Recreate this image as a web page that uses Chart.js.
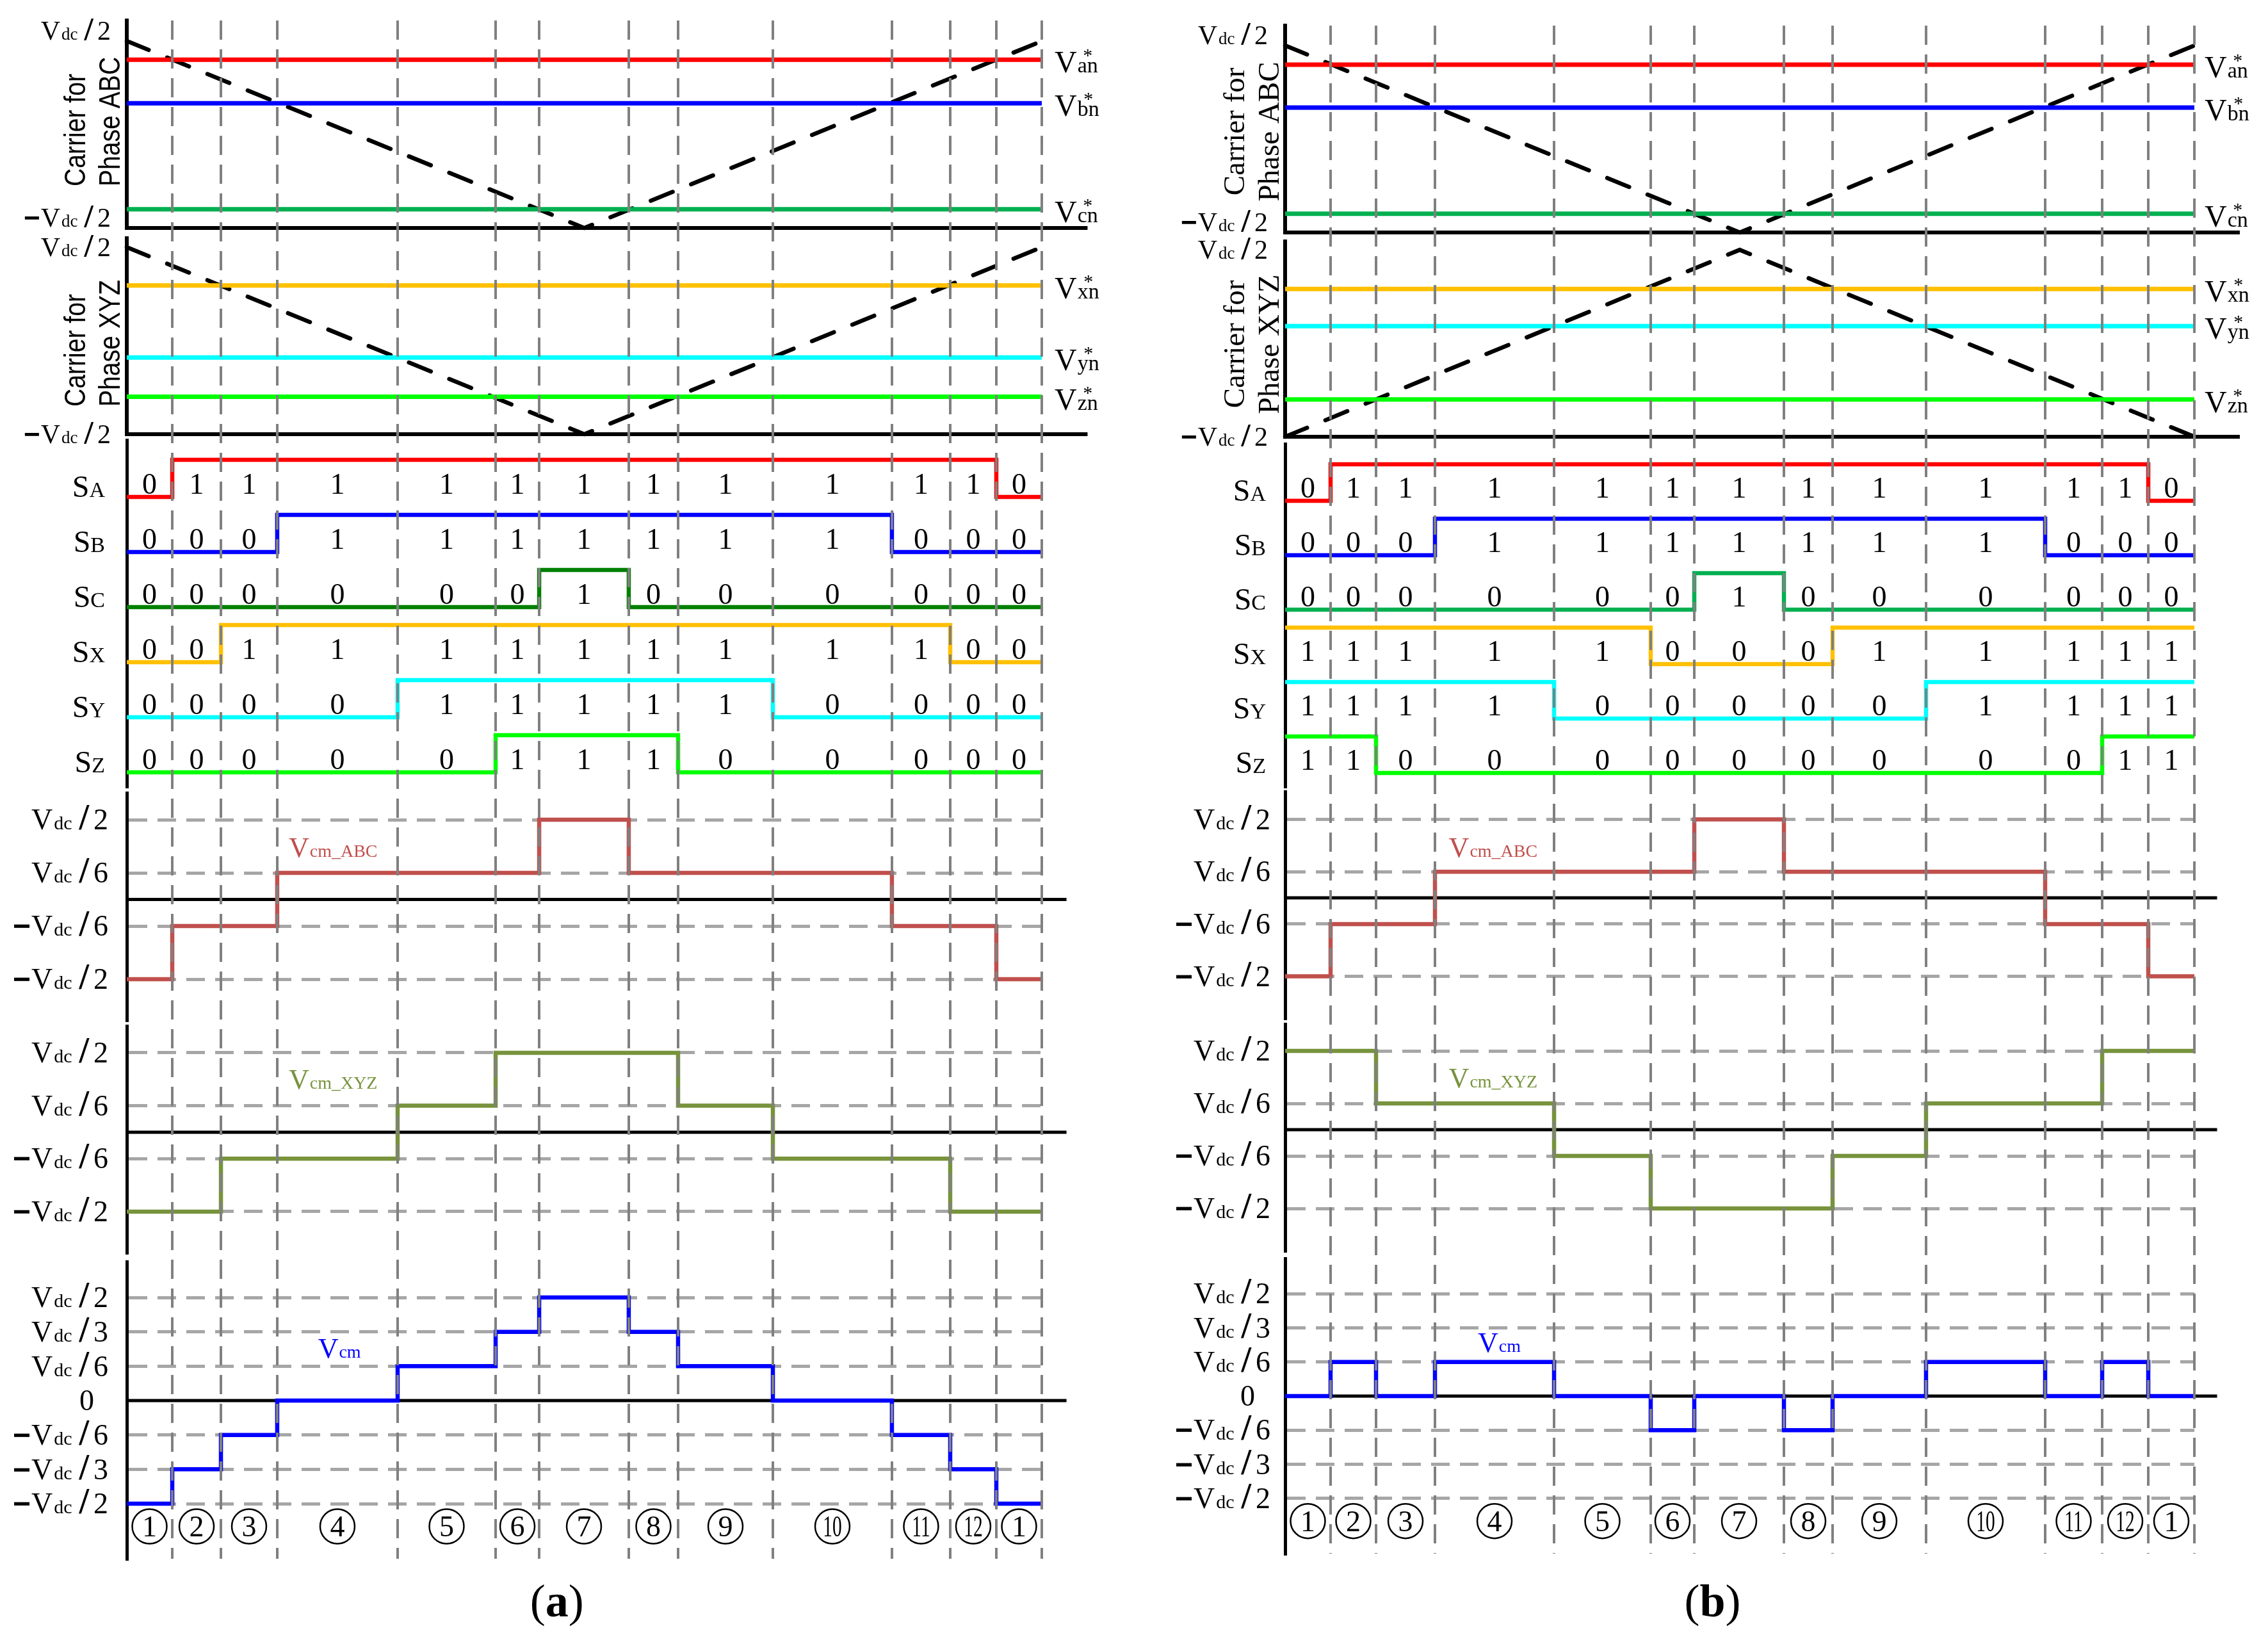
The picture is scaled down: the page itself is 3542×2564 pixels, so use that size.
<!DOCTYPE html>
<html>
<head>
<meta charset="utf-8">
<script src="https://cdn.jsdelivr.net/npm/chart.js@4.4.1/dist/chart.umd.min.js"></script>
<style>
html,body{margin:0;padding:0;background:#fff;}
#wrap{position:relative;width:3542px;height:2564px;background:#fff;overflow:hidden;}
#wrap canvas{position:absolute;top:0;}
</style>
</head>
<body>
<div id="wrap">
  <canvas id="ca" width="1771" height="2564" style="left:0px"></canvas>
  <canvas id="cb" width="1771" height="2564" style="left:1771px"></canvas>
</div>
<script>
// ================= DATA =================
const regionLabels = ['1','2','3','4','5','6','7','8','9','10','11','12','1'];
// switching instants (percent of the carrier period)
const boundsA = [0, 4.97, 10.29, 16.44, 29.6, 40.31, 45.07, 54.86, 60.25, 70.61, 83.62, 89.99, 95.03, 100];
const boundsB = [0, 5.0, 10.0, 16.48, 29.58, 40.21, 45.0, 54.86, 60.21, 70.49, 83.59, 89.86, 94.93, 100];

// triangular carriers (time, value in Vdc)
const carrierTime = [0, 50, 100];
const carrierABC_A = [0.5, -0.5, 0.5];
const carrierXYZ_A = [0.5, -0.5, 0.5];
const carrierABC_B = [0.5, -0.5, 0.5];
const carrierXYZ_B = [-0.5, 0.5, -0.5];

// references (in Vdc)
const refSpan = [0, 100];
const refNamesABC = ['an', 'bn', 'cn'];
const refNamesXYZ = ['xn', 'yn', 'zn'];
const refABC_A = [0.40, 0.167, -0.40];
const refXYZ_A = [0.295, -0.09, -0.30];
const refABC_B = [0.397, 0.168, -0.40];
const refXYZ_B = [0.291, 0.092, -0.30];

// switching states
const switchNames = ['A', 'B', 'C', 'X', 'Y', 'Z'];
const SA_a = [0,1,1,1,1,1,1,1,1,1,1,1,0];
const SB_a = [0,0,0,1,1,1,1,1,1,1,0,0,0];
const SC_a = [0,0,0,0,0,0,1,0,0,0,0,0,0];
const SX_a = [0,0,1,1,1,1,1,1,1,1,1,0,0];
const SY_a = [0,0,0,0,1,1,1,1,1,0,0,0,0];
const SZ_a = [0,0,0,0,0,1,1,1,0,0,0,0,0];
const SA_b = [0,1,1,1,1,1,1,1,1,1,1,1,0];
const SB_b = [0,0,0,1,1,1,1,1,1,1,0,0,0];
const SC_b = [0,0,0,0,0,0,1,0,0,0,0,0,0];
const SX_b = [1,1,1,1,1,0,0,0,1,1,1,1,1];
const SY_b = [1,1,1,1,0,0,0,0,0,1,1,1,1];
const SZ_b = [1,1,0,0,0,0,0,0,0,0,0,1,1];

// common-mode voltages (in Vdc)
const vcmABC_a = [-0.5,-0.1667,-0.1667,0.1667,0.1667,0.1667,0.5,0.1667,0.1667,0.1667,-0.1667,-0.1667,-0.5];
const vcmXYZ_a = [-0.5,-0.5,-0.1667,-0.1667,0.1667,0.5,0.5,0.5,0.1667,-0.1667,-0.1667,-0.5,-0.5];
const vcm_a    = [-0.5,-0.3333,-0.1667,0,0.1667,0.3333,0.5,0.3333,0.1667,0,-0.1667,-0.3333,-0.5];
const vcmABC_b = [-0.5,-0.1667,-0.1667,0.1667,0.1667,0.1667,0.5,0.1667,0.1667,0.1667,-0.1667,-0.1667,-0.5];
const vcmXYZ_b = [0.5,0.5,0.1667,0.1667,-0.1667,-0.5,-0.5,-0.5,-0.1667,0.1667,0.1667,0.5,0.5];
const vcm_b    = [0,0.1667,0,0.1667,0,-0.1667,0,-0.1667,0,0.1667,0,0.1667,0];

// tick values and labels
const carrierTicks = [0.5, -0.5];
const carrierTickLabels = ['Vdc/2', '−Vdc/2'];
const partTicks = [0.5, 0.1667, -0.1667, -0.5];
const partTickLabels = ['Vdc/2', 'Vdc/6', '−Vdc/6', '−Vdc/2'];
const vcmTicks = [0.5, 0.3333, 0.1667, 0, -0.1667, -0.3333, -0.5];
const vcmTickLabels = ['Vdc/2', 'Vdc/3', 'Vdc/6', '0', '−Vdc/6', '−Vdc/3', '−Vdc/2'];

// ================= STYLE / HELPERS =================
const SERIF = '"Liberation Serif", "Times New Roman", serif';
const SANS = '"Liberation Sans", Arial, sans-serif';
function fnt(size, bold) { return (bold ? 'bold ' : '') + size + 'px ' + SERIF; }

function drawRuns(ctx, runs, x, y, align, sx) {
  sx = sx || 1;
  let w = 0;
  for (const r of runs) { ctx.font = r.font; r.w = ctx.measureText(r.t).width; w += (r.dx || 0) + r.w; }
  const W = w * sx;
  const x0 = align === 'right' ? x - W : (align === 'center' ? x - W / 2 : x);
  ctx.save();
  ctx.translate(x0, y); ctx.scale(sx, 1);
  ctx.textAlign = 'left'; ctx.textBaseline = 'alphabetic';
  let px = 0;
  for (const r of runs) {
    px += r.dx || 0;
    ctx.font = r.font; ctx.fillStyle = r.color || '#000';
    ctx.fillText(r.t, px, r.dy || 0);
    px += r.w;
  }
  ctx.restore();
  return W;
}

function vdcRuns(label, S) {
  if (label.indexOf('Vdc') < 0) return [{ t: label, font: fnt(S) }];
  const neg = label.charAt(0) === '−';
  const den = label.split('/')[1];
  const runs = [];
  if (neg) runs.push({ t: '−', font: 'bold ' + Math.round(S * 1.05) + 'px ' + SANS, dy: 1 });
  runs.push({ t: 'V', font: fnt(S), dx: neg ? 1 : 0 });
  runs.push({ t: 'dc', font: fnt(Math.round(S * 0.65)), dx: 2 });
  runs.push({ t: '/', font: fnt(Math.round(S * 1.22), true), dx: S * 0.24 });
  runs.push({ t: den, font: fnt(S), dx: S * 0.15 });
  return runs;
}

function pairData(xs, ys) { return xs.map((x, i) => ({ x: x, y: ys[i] })); }
function stepData(bounds, vals) { return bounds.map((b, i) => ({ x: b, y: vals[Math.min(i, vals.length - 1)] })); }

function lineDs(yID, data, color, width, extra) {
  return Object.assign({ yAxisID: yID, xAxisID: 'x', data: data, borderColor: color, borderWidth: width,
    pointRadius: 0, fill: false, tension: 0, clip: false, borderCapStyle: 'butt', borderJoinStyle: 'miter' }, extra || {});
}

function carrierSet(yID, carrier, refs, colors, axisEnd) {
  const out = [];
  refs.forEach((v, i) => out.push(lineDs(yID, pairData(refSpan, [v, v]), colors[i], 7)));
  out.push(lineDs(yID, pairData(carrierTime, carrier), '#000', 6.5, { borderDash: [37, 31], borderCapStyle: 'round' }));
  out.push(lineDs(yID, pairData([0, axisEnd], [-0.5, -0.5]), '#000', 6));
  return out;
}
function switchSet(bounds, states, colors) {
  return states.map((s, k) => lineDs('yS' + switchNames[k], stepData(bounds, s), colors[k], 6.5, { stepped: true }));
}
function vcmSet(yID, bounds, vals, color, zeroEnd) {
  return [
    lineDs(yID, stepData(bounds, vals), color, 6.5, { stepped: true }),
    lineDs(yID, pairData([0, zeroEnd], [0, 0]), '#000', 5)
  ];
}

function drawPanelText(chart, P) {
  const ctx = chart.ctx, X = chart.scales.x, ax = X.left;
  ctx.save();
  // y tick labels
  P.tickSets.forEach(ts => {
    const sc = chart.scales[ts.id];
    ts.values.forEach((v, i) => {
      const lab = ts.labels[i];
      const py = sc.getPixelForValue(v);
      const y = ts.base ? py - 2 : py + 0.33 * ts.size;
      const gap = lab === '0' ? P.zeroGap : ts.gap;
      drawRuns(ctx, vdcRuns(lab, ts.size), ax - gap, y, 'right');
    });
  });
  // reference labels on the right
  P.refSets.forEach(rs => {
    const sc = chart.scales[rs.id];
    rs.values.forEach((v, i) => {
      const y = sc.getPixelForValue(v) + 20;
      const x = X.getPixelForValue(100) + P.refDx;
      ctx.font = fnt(48); const wV = ctx.measureText('V').width;
      ctx.font = fnt(34); const wS = ctx.measureText(rs.names[i]).width;
      drawRuns(ctx, [{ t: 'V', font: fnt(48) }, { t: rs.names[i], font: fnt(34), dx: 1 }], x, y, 'left');
      drawRuns(ctx, [{ t: '*', font: fnt(30) }], x + wV + 1 + wS / 2, y - 17, 'center');
    });
  });
  // switching labels and state digits
  switchNames.forEach((nm, k) => {
    const sc = chart.scales['yS' + nm];
    const y0 = sc.getPixelForValue(0);
    drawRuns(ctx, [{ t: 'S', font: fnt(48) }, { t: nm, font: fnt(34) }], ax - P.sGap, y0, 'right');
    P.states[k].forEach((s, i) => {
      const xm = X.getPixelForValue((P.bounds[i] + P.bounds[i + 1]) / 2);
      drawRuns(ctx, [{ t: String(s), font: fnt(46) }], xm, y0 - 5, 'center');
    });
  });
  // common-mode curve names
  P.vLabels.forEach(vl => {
    const sc = chart.scales[vl.id];
    drawRuns(ctx, [{ t: 'V', font: fnt(44), color: vl.color }, { t: vl.sub, font: fnt(28), color: vl.color, dx: 1 }],
      X.getPixelForValue(vl.x), sc.getPixelForValue(vl.y), 'left');
  });
  // circled region numbers
  const sV = chart.scales.yV;
  const cy = sV.getPixelForValue(P.circleY);
  regionLabels.forEach((lab, i) => {
    const cx = X.getPixelForValue((P.bounds[i] + P.bounds[i + 1]) / 2);
    ctx.beginPath(); ctx.arc(cx, cy, 27, 0, Math.PI * 2);
    ctx.lineWidth = 2.5; ctx.strokeStyle = '#000'; ctx.stroke();
    drawRuns(ctx, [{ t: lab, font: fnt(46) }], cx, cy + 16, 'center', lab.length > 1 ? 0.64 : 1);
  });
  // rotated titles
  P.titles.forEach(tt => {
    const sc = chart.scales[tt.id];
    tt.lines.forEach((line, j) => {
      const bx = ax + P.titleBase[j];
      const by = P.titleAlign === 'left' ? sc.bottom - tt.start : (sc.top + sc.bottom) / 2 + tt.dy;
      ctx.save();
      ctx.translate(bx, by); ctx.rotate(-Math.PI / 2); ctx.scale(P.titleSx, 1);
      ctx.font = P.titleFont; ctx.fillStyle = '#000';
      ctx.textAlign = P.titleAlign; ctx.textBaseline = 'alphabetic';
      ctx.fillText(line, 0, 0);
      ctx.restore();
    });
  });
  // panel letter
  drawRuns(ctx, [{ t: '(', font: fnt(72) }, { t: P.letter, font: fnt(72, true) }, { t: ')', font: fnt(72) }],
    X.getPixelForValue(47), 2524, 'center');
  ctx.restore();
}

function buildPanel(P) {
  const scales = {
    x: {
      type: 'linear', position: 'bottom', min: 0, max: 100, bounds: 'data',
      afterBuildTicks: a => { a.ticks = P.bounds.slice(1).map(v => ({ value: v })); },
      afterFit: a => { a.height = 0; },
      ticks: { display: false, autoSkip: false },
      border: { display: false, dash: [30, 15] },
      grid: { display: true, drawTicks: false, color: '#808080', lineWidth: 4, z: 1 }
    }
  };
  const n = P.slots.length;
  P.slots.forEach((s, i) => {
    const gap = s.min === undefined;
    scales[s.id] = {
      type: 'linear', position: 'left', stack: 'panel', stackWeight: s.h, weight: n - i,
      min: gap ? 0 : s.min, max: gap ? 1 : s.max, bounds: 'data',
      afterBuildTicks: a => { a.ticks = (s.ticks || []).map(v => ({ value: v })); },
      afterFit: a => { a.width = 0; },
      ticks: { display: false, autoSkip: false },
      border: { display: !gap, color: '#000', width: s.bw || 5, dash: [29, 16] },
      grid: { display: !!s.ticks, drawTicks: false, lineWidth: 5,
        color: c => (c.tick && c.tick.value === 0) ? 'rgba(0,0,0,0)' : '#A6A6A6' }
    };
  });
  return new Chart(document.getElementById(P.canvas), {
    type: 'line',
    data: { datasets: P.datasets },
    options: {
      responsive: false, animation: false, devicePixelRatio: 1, events: [],
      layout: { padding: P.pad },
      plugins: { legend: { display: false }, tooltip: { enabled: false } },
      scales: scales
    },
    plugins: [{ id: 'panelText', afterDraw: ch => drawPanelText(ch, P) }]
  });
}

const refColorsABC = ['#FF0000', '#0000FF', '#00B050'];
const refColorsXYZ = ['#FFC000', '#00FFFF', '#00FF00'];

// ================= PANEL (a) =================
const statesA = [SA_a, SB_a, SC_a, SX_a, SY_a, SZ_a];
const panelA = {
  canvas: 'ca', letter: 'a', bounds: boundsA, states: statesA,
  pad: { left: 198, right: 144, top: 32, bottom: 130 },
  slots: [
    { id: 'yCA', h: 324, min: -0.5, max: 0.61, bw: 6 },
    { id: 'g1', h: 16 },
    { id: 'yCX', h: 306, min: -0.5, max: 0.548, bw: 6 },
    { id: 'g2', h: 9 },
    { id: 'ySA', h: 111, min: -0.379, max: 1.534 },
    { id: 'ySB', h: 86, min: -0.379, max: 1.103 },
    { id: 'ySC', h: 86, min: -0.379, max: 1.103 },
    { id: 'ySX', h: 86, min: -0.379, max: 1.103 },
    { id: 'ySY', h: 86, min: -0.379, max: 1.103 },
    { id: 'ySZ', h: 86, min: -0.379, max: 1.103 },
    { id: 'g3', h: 10 },
    { id: 'yVA', h: 355, min: -0.757, max: 0.669, ticks: partTicks },
    { id: 'g4', h: 9 },
    { id: 'yVX', h: 354, min: -0.758, max: 0.669, ticks: partTicks },
    { id: 'g5', h: 14 },
    { id: 'yV', h: 464, min: -0.767, max: 0.674, ticks: vcmTicks }
  ],
  tickSets: [
    { id: 'yCA', values: carrierTicks, labels: carrierTickLabels, size: 42, base: true, gap: 25 },
    { id: 'yCX', values: carrierTicks, labels: carrierTickLabels, size: 42, base: false, gap: 25 },
    { id: 'yVA', values: partTicks, labels: partTickLabels, size: 46, gap: 29 },
    { id: 'yVX', values: partTicks, labels: partTickLabels, size: 46, gap: 29 },
    { id: 'yV', values: vcmTicks, labels: vcmTickLabels, size: 46, gap: 29 }
  ],
  zeroGap: 51, sGap: 34, refDx: 20, circleY: -0.61,
  refSets: [
    { id: 'yCA', values: refABC_A, names: refNamesABC },
    { id: 'yCX', values: refXYZ_A, names: refNamesXYZ }
  ],
  vLabels: [
    { id: 'yVA', sub: 'cm_ABC', color: '#C0504D', x: 17.7, y: 0.267 },
    { id: 'yVX', sub: 'cm_XYZ', color: '#77933C', x: 17.7, y: 0.274 },
    { id: 'yV', sub: 'cm', color: '#0000FF', x: 20.9, y: 0.208 }
  ],
  titles: [
    { id: 'yCA', lines: ['Carrier for', 'Phase ABC'], start: 65 },
    { id: 'yCX', lines: ['Carrier for', 'Phase XYZ'], start: 43 }
  ],
  titleFont: '46px ' + SANS, titleSx: 0.85, titleAlign: 'left', titleBase: [-65, -11],
  datasets: [].concat(
    carrierSet('yCA', carrierABC_A, refABC_A, refColorsABC, 105.0),
    carrierSet('yCX', carrierXYZ_A, refXYZ_A, refColorsXYZ, 105.0),
    switchSet(boundsA, statesA, ['#FF0000', '#0000FF', '#008000', '#FFC000', '#00FFFF', '#00FF00']),
    vcmSet('yVA', boundsA, vcmABC_a, '#C0504D', 102.7),
    vcmSet('yVX', boundsA, vcmXYZ_a, '#77933C', 102.7),
    vcmSet('yV', boundsA, vcm_a, '#0000FF', 102.7)
  )
};

// ================= PANEL (b) =================
const statesB = [SA_b, SB_b, SC_b, SX_b, SY_b, SZ_b];
const panelB = {
  canvas: 'cb', letter: 'b', bounds: boundsB, states: statesB,
  pad: { left: 236, right: 115, top: 40, bottom: 138 },
  slots: [
    { id: 'yCA', h: 323, min: -0.5, max: 0.606, bw: 6 },
    { id: 'g1', h: 14 },
    { id: 'yCX', h: 305, min: -0.5, max: 0.545, bw: 6 },
    { id: 'g2', h: 11 },
    { id: 'ySA', h: 110, min: -0.368, max: 1.561 },
    { id: 'ySB', h: 85, min: -0.368, max: 1.123 },
    { id: 'ySC', h: 85, min: -0.368, max: 1.123 },
    { id: 'ySX', h: 85, min: -0.368, max: 1.123 },
    { id: 'ySY', h: 85, min: -0.368, max: 1.123 },
    { id: 'ySZ', h: 85, min: -0.368, max: 1.123 },
    { id: 'g3', h: 8 },
    { id: 'yVA', h: 354, min: -0.767, max: 0.678, ticks: partTicks },
    { id: 'g4', h: 9 },
    { id: 'yVX', h: 354, min: -0.768, max: 0.671, ticks: partTicks },
    { id: 'g5', h: 12 },
    { id: 'yV', h: 461, min: -0.769, max: 0.672, ticks: vcmTicks }
  ],
  tickSets: [
    { id: 'yCA', values: carrierTicks, labels: carrierTickLabels, size: 42, base: true, gap: 27 },
    { id: 'yCX', values: carrierTicks, labels: carrierTickLabels, size: 42, base: false, gap: 27 },
    { id: 'yVA', values: partTicks, labels: partTickLabels, size: 46, gap: 23 },
    { id: 'yVX', values: partTicks, labels: partTickLabels, size: 46, gap: 23 },
    { id: 'yV', values: vcmTicks, labels: vcmTickLabels, size: 46, gap: 23 }
  ],
  zeroGap: 47, sGap: 30, refDx: 16, circleY: -0.61,
  refSets: [
    { id: 'yCA', values: refABC_B, names: refNamesABC },
    { id: 'yCX', values: refXYZ_B, names: refNamesXYZ }
  ],
  vLabels: [
    { id: 'yVA', sub: 'cm_ABC', color: '#C0504D', x: 18.0, y: 0.261 },
    { id: 'yVX', sub: 'cm_XYZ', color: '#77933C', x: 18.0, y: 0.268 },
    { id: 'yV', sub: 'cm', color: '#0000FF', x: 21.2, y: 0.216 }
  ],
  titles: [
    { id: 'yCA', lines: ['Carrier for', 'Phase ABC'], dy: 4 },
    { id: 'yCX', lines: ['Carrier for', 'Phase XYZ'], dy: 8 }
  ],
  titleFont: '47px ' + SERIF, titleSx: 1, titleAlign: 'center', titleBase: [-64, -10],
  datasets: [].concat(
    carrierSet('yCA', carrierABC_B, refABC_B, refColorsABC, 105.0),
    carrierSet('yCX', carrierXYZ_B, refXYZ_B, refColorsXYZ, 105.0),
    switchSet(boundsB, statesB, ['#FF0000', '#0000FF', '#00B050', '#FFC000', '#00FFFF', '#00FF00']),
    vcmSet('yVA', boundsB, vcmABC_b, '#C0504D', 102.5),
    vcmSet('yVX', boundsB, vcmXYZ_b, '#77933C', 102.5),
    vcmSet('yV', boundsB, vcm_b, '#0000FF', 102.5)
  )
};

buildPanel(panelA);
buildPanel(panelB);
</script>
</body>
</html>
